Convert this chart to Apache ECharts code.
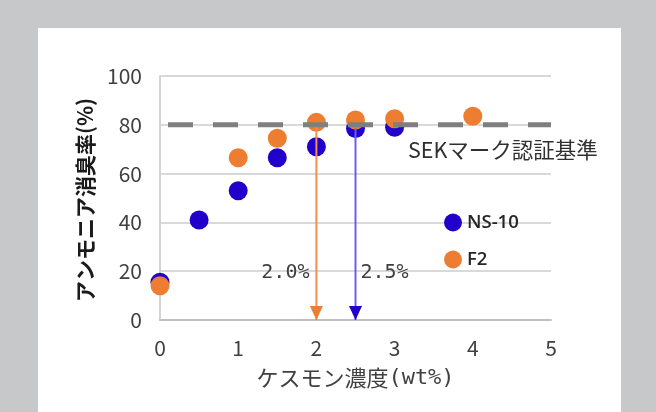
<!DOCTYPE html>
<html><head><meta charset="utf-8">
<script src="https://cdn.jsdelivr.net/npm/echarts@6/dist/echarts.min.js"></script>
<style>html,body{margin:0;padding:0;background:#c7c8ca}#c{width:656px;height:412px}</style>
</head><body><div id="c"></div>
<script>
const nsX = [0, 0.5, 1, 1.5, 2, 2.5, 3];
const nsY = [15.5, 41, 53, 66.5, 71, 78.5, 79];
const f2X = [0, 1, 1.5, 2, 2.5, 3, 4];
const f2Y = [14, 66.5, 74.5, 81, 82, 82.5, 83.5];
const seriesNames = ['NS-10', 'F2'];
const standardValue = 80;
const standardLabel = 'SEKマーク認証基準';
const arrowX = [2.0, 2.5];
const arrowTopY = [81, 78.5];
const arrowLabels = ['2.0%', '2.5%'];
const xTicks = [0, 1, 2, 3, 4, 5];
const yTicks = [0, 20, 40, 60, 80, 100];
const xTitleMain = 'ケスモン濃度';
const xTitleUnit = '(wt%)';
const yTitle = 'アンモニア消臭率(%)';

const BLUE = '#2200cc', ORANGE = '#ed7d31';
const pts = (xs, ys) => xs.map((x, i) => [x, ys[i]]);

function arrowSeries(i, color, lineColor, labelOffset) {
  return {
    type: 'line', silent: true, z: 3,
    lineStyle: { color: lineColor, width: 2 },
    data: [
      { value: [arrowX[i], arrowTopY[i]], symbol: 'none' },
      { value: [arrowX[i], 0], symbol: 'triangle', symbolSize: [13, 14], symbolRotate: 180,
        symbolOffset: [0, -7], itemStyle: { color: color } }
    ],
    markPoint: {
      symbol: 'circle', symbolSize: 0, silent: true,
      data: [{ coord: [arrowX[i], 19.3] }],
      label: { show: true, formatter: arrowLabels[i], offset: labelOffset,
        fontFamily: 'DejaVu Sans Mono', fontSize: 20, color: '#404040' }
    }
  };
}

const chart = echarts.init(document.getElementById('c'), null, { renderer: 'canvas' });
chart.setOption({
  animation: false,
  graphic: [
    { type: 'rect', shape: { x: 38, y: 28, width: 583, height: 390 }, style: { fill: '#ffffff' }, z: -10, silent: true },
    { type: 'text', x: 408, y: 150, style: { text: standardLabel, font: '21.5px "Noto Sans CJK JP"', fill: '#303030', verticalAlign: 'middle' }, z: 10 }
  ],
  grid: { left: 160, right: 105, top: 76, bottom: 92 },
  xAxis: {
    type: 'value', min: 0, max: 5, interval: 1,
    name: '{a|' + xTitleMain + '}{b|' + xTitleUnit + '}', nameLocation: 'middle', nameGap: 47,
    nameTextStyle: {
      color: '#404040',
      rich: {
        a: { fontFamily: 'Noto Sans CJK JP', fontSize: 22, color: '#404040' },
        b: { fontFamily: 'DejaVu Sans Mono', fontSize: 22, color: '#404040' }
      }
    },
    axisLine: { show: true, lineStyle: { color: '#c0c0c0', width: 2 } },
    axisTick: { show: false },
    splitLine: { show: false },
    axisLabel: { margin: 18, fontFamily: 'Noto Sans CJK JP', fontSize: 21, color: '#404040',
      formatter: v => xTicks.includes(v) ? String(v) : '' }
  },
  yAxis: {
    type: 'value', min: 0, max: 100, interval: 20,
    name: yTitle, nameLocation: 'middle', nameGap: 64, nameRotate: 90,
    nameTextStyle: { fontFamily: 'Noto Sans CJK JP', fontSize: 21, fontWeight: 'bold', color: '#1a1a1a', padding: [0, 4, 0, 0] },
    axisLine: { show: true, lineStyle: { color: '#d4d4d4', width: 2 } },
    axisTick: { show: false },
    splitLine: { show: true, lineStyle: { color: '#d9d9d9', width: 2 } },
    axisLabel: { margin: 18, fontFamily: 'Noto Sans CJK JP', fontSize: 21, color: '#404040',
      formatter: v => yTicks.includes(v) ? String(v) : '' }
  },
  legend: {
    orient: 'vertical', left: 439, top: 208, itemWidth: 18, itemHeight: 18, itemGap: 18,
    icon: 'circle', data: seriesNames,
    textStyle: { fontFamily: 'Open Sans', fontWeight: 600, fontSize: 18.5, color: '#262626', padding: [0, 0, 0, 0] }
  },
  series: [
    { name: seriesNames[0], type: 'scatter', z: 2, symbolSize: 19, itemStyle: { color: BLUE, opacity: 1 }, data: pts(nsX, nsY) },
    { name: seriesNames[1], type: 'scatter', z: 2, symbolSize: 19, itemStyle: { color: ORANGE, opacity: 1 }, data: pts(f2X, f2Y) },
    arrowSeries(0, ORANGE, '#f19050', [-31, 0]),
    arrowSeries(1, BLUE, '#6f5cf0', [29, 0]),
    { type: 'line', silent: true, z: 5, symbol: 'none',
      lineStyle: { color: '#7f7f7f', width: 5, type: [25, 20], dashOffset: 37 },
      data: [[0, standardValue], [5, standardValue]] }
  ]
});
</script></body></html>
